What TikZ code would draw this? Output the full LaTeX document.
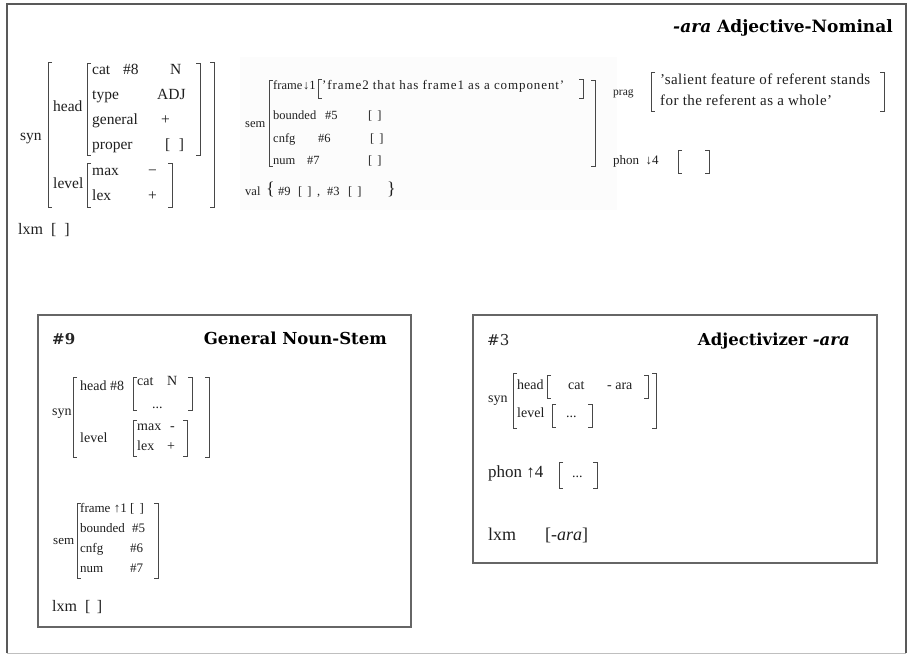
\documentclass[tikz,border=0pt]{standalone}
\usepackage{fontspec}
\setmainfont{Liberation Serif}
\newfontfamily\ttlfont{DejaVu Serif}

\tikzset{
  fs/.style={anchor=west, inner sep=0pt, text height=.7em, text depth=.2em, text=black!88},
  fsz/.style={font=\fontsize{#1}{#1}\selectfont},
  ttl/.style={anchor=east, inner sep=0pt, text height=.7em, text depth=.2em,
              font=\fontsize{16.5}{16.5}\ttlfont\bfseries, text=black},
  tag/.style={anchor=west, inner sep=0pt, text height=.7em, text depth=.2em,
              font=\fontsize{15}{15}\ttlfont, text=black!85},
  brk/.style={draw=black!72, line width=0.8pt},
  frame/.style={draw=black!60, line width=1.3pt},
}
% square brackets of an attribute-value matrix: x, top y, bottom y
\newcommand\LBr[3]{\draw[brk] (#1+4,#2) -- (#1,#2) -- (#1,#3) -- (#1+4,#3);}
\newcommand\RBr[3]{\draw[brk] (#1-4,#2) -- (#1,#2) -- (#1,#3) -- (#1-4,#3);}

\begin{document}
\begin{tikzpicture}[x=1pt, y=-1pt]
\useasboundingbox (0,0) rectangle (907,655);
\fill[white] (0,0) rectangle (907,655);

% outer frame
\draw[draw=black!65, line width=1.6pt] (7,653) -- (7,4) -- (906,4) -- (906,653);
\draw[draw=black!25, line width=1pt] (7,653) -- (906,653);

% title
\node[ttl, font=\fontsize{17}{17}\ttlfont\bfseries] (title) at (893,30) {\textit{-ara} Adjective-Nominal};

% ---------- syn of the construction ----------
\begin{scope}[every node/.style={fs, fsz=15.5}]
  \node (syn) at (20,138) {syn};
  \node (head) at (53,109) {head};
  \node (lvl) at (53,186) {level};
  \node (cat) at (92,72) {cat};
  \node (cattag) at (123,72) {\#8};
  \node (catv) at (170,72) {N};
  \node (type) at (92,97) {type};
  \node (typev) at (157,97) {ADJ};
  \node (gen) at (92,122) {general};
  \node (genv) at (161,122) {+};
  \node (prop) at (92,147) {proper};
  \node (propv) at (165,147) {[\hspace{.55em}]};
  \node (max) at (92,173) {max};
  \node (maxv) at (148,173) {−};
  \node (lex) at (92,198) {lex};
  \node (lexv) at (148,198) {+};
\end{scope}
\LBr{48}{62}{207}
\RBr{214}{62}{207}
\LBr{87}{63}{155}
\RBr{200}{63}{155}
\LBr{87}{163}{207}
\RBr{172}{163}{207}
\node[fs, fsz=16] (lxm) at (18,232) {lxm\ \ [\hspace{.5em}]};

% ---------- sem and val ----------
\fill[black!1] (240,57) rectangle (617,210);
\begin{scope}[every node/.style={fs, fsz=12.5}]
  \node (sem) at (245,125) {sem};
  \node (frm) at (273,87) {frame};
  \node (frmtag) at (303,87) {↓1};
  \node[fsz=13] (frmv) at (322,87) {\addfontfeatures{LetterSpace=7}'frame2 that has frame1 as a component'};
  \node (bnd) at (273,117) {bounded};
  \node (bndtag) at (325,117) {\#5};
  \node (bndv) at (368,117) {[\hspace{.4em}]};
  \node (cnf) at (273,140) {cnfg};
  \node (cnftag) at (318,140) {\#6};
  \node (cnfv) at (370,140) {[\hspace{.4em}]};
  \node (num) at (273,162) {num};
  \node (numtag) at (307,162) {\#7};
  \node (numv) at (368,162) {[\hspace{.4em}]};
  \node (val) at (245,193) {val};
  \node (v9) at (278,193) {\#9};
  \node (v9b) at (298,193) {[\hspace{.4em}]};
  \node (vcomma) at (317,193) {,};
  \node (v3) at (327,193) {\#3};
  \node (v3b) at (348,193) {[\hspace{.4em}]};
  \node[fsz=18] (vall) at (266,192) {\{};
  \node[fsz=18] (valr) at (387,192) {\}};
\end{scope}
\LBr{269}{80}{166}
\RBr{595}{80}{166}
\LBr{318}{79}{98}
\RBr{583}{79}{98}

% ---------- prag and phon ----------
\node[fs, fsz=11.5] (prag) at (613,93) {prag};
\node[fs, fsz=15] (prag1) at (660,82) {\addfontfeatures{LetterSpace=3}'salient feature of referent stands};
\node[fs, fsz=15] (prag2) at (660,103) {\addfontfeatures{LetterSpace=3}for the referent as a whole'};
\LBr{651}{72}{111}
\RBr{884}{72}{111}
\node[fs, fsz=13] (phon) at (613,162) {phon\ \ ↓4};
\LBr{678}{150}{173}
\RBr{709}{150}{173}

% ---------- #9 General Noun-Stem ----------
\draw[frame] (38,315) rectangle (411,627);
\node[tag, font=\fontsize{15}{15}\ttlfont\bfseries] (n9) at (52,342) {\#9};
\node[ttl] (gns) at (387,342) {General Noun-Stem};
\begin{scope}[every node/.style={fs, fsz=14}]
  \node (bsyn) at (52,413) {syn};
  \node (bhead) at (80,388) {head \#8};
  \node (bcat) at (137,383) {cat};
  \node (bcatv) at (167,383) {N};
  \node (bdots) at (152,406) {...};
  \node (blvl) at (80,440) {level};
  \node (bmax) at (137,428) {max};
  \node (bmaxv) at (170,428) {-};
  \node (blex) at (137,448) {lex};
  \node (blexv) at (167,448) {+};
\end{scope}
\LBr{73}{377}{457}
\RBr{209}{377}{457}
\LBr{133}{377}{410}
\RBr{192}{377}{410}
\LBr{133}{420}{456}
\RBr{187}{420}{456}
\begin{scope}[every node/.style={fs, fsz=13}]
  \node (bsem) at (53,542) {sem};
  \node (bfrm) at (80,510) {frame ↑1 [\hspace{.4em}]};
  \node (bbnd) at (80,530) {bounded};
  \node (bbndv) at (132,530) {\#5};
  \node (bcnf) at (80,550) {cnfg};
  \node (bcnfv) at (130,550) {\#6};
  \node (bnum) at (80,570) {num};
  \node (bnumv) at (130,570) {\#7};
\end{scope}
\LBr{77}{503}{578}
\RBr{158}{503}{578}
\node[fs, fsz=16] (blxm) at (52,609) {lxm\ \ [\hspace{.4em}]};

% ---------- #3 Adjectivizer -ara ----------
\draw[frame] (473,315) rectangle (877,563);
\node[tag] (n3) at (487,343) {\#3};
\node[ttl] (adj) at (850,343) {Adjectivizer \textit{-ara}};
\begin{scope}[every node/.style={fs, fsz=14}]
  \node (rsyn) at (488,400) {syn};
  \node (rhead) at (517,387) {head};
  \node (rcat) at (568,387) {cat};
  \node (rcatv) at (607,387) {- ara};
  \node (rlvl) at (517,415) {level};
  \node (rdots) at (566,415) {...};
\end{scope}
\LBr{513}{373}{428}
\RBr{656}{373}{428}
\LBr{547}{375}{398}
\RBr{648}{375}{398}
\LBr{552}{404}{427}
\RBr{592}{404}{427}
\node[fs, fsz=17] (rphon) at (488,475) {phon ↑4};
\node[fs, fsz=14] (rphdots) at (572,475) {...};
\LBr{559}{462}{488}
\RBr{597}{462}{488}
\node[fs, fsz=18] (rlxm) at (488,538) {lxm};
\node[fs, fsz=18] (rlxmv) at (545,538) {[-\textit{ara}]};
\end{tikzpicture}
\end{document}
